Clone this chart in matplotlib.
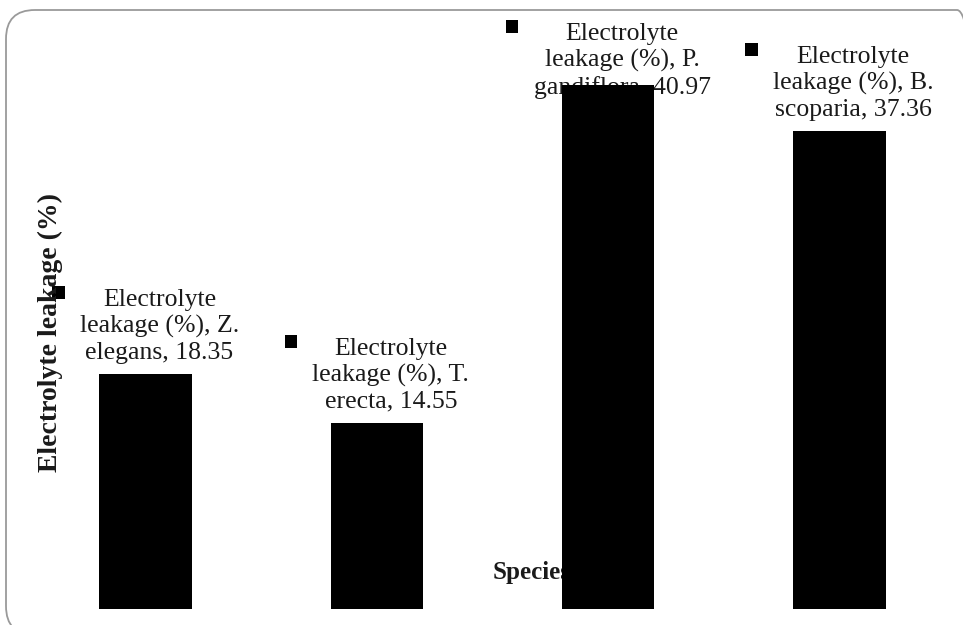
import matplotlib
matplotlib.use("Agg")
import matplotlib.pyplot as plt
from matplotlib.patches import FancyBboxPatch, Rectangle
from matplotlib.offsetbox import AnnotationBbox, HPacker, TextArea, DrawingArea

# data
species = ["Z.\nelegans", "T.\nerecta", "P.\ngandiflora", "B.\nscoparia"]
leakage = [18.35, 14.55, 40.97, 37.36]
series_name = "Electrolyte\nleakage (%),"

plt.rcParams["font.family"] = ["Liberation Serif", "DejaVu Serif"]

W, H = 963, 625
fig = plt.figure(figsize=(W / 100, H / 100), dpi=100)

# rounded chart-area border (Excel style)
border = FancyBboxPatch((6 / W, -10 / H), 980 / W, 625 / H,
                        boxstyle="round,pad=0,rounding_size=0.03",
                        transform=fig.transFigure, fc="none", ec="#9a9a9a",
                        lw=1.3, mutation_aspect=W / H, zorder=-1)
fig.patches.append(border)

ax = fig.add_axes([30 / W, 16 / H, 925 / W, 575.5 / H])
ax.set_axis_off()

x = range(len(species))
ax.bar(x, leakage, width=0.4, color="black", zorder=3)
ax.set_xlim(-0.5, len(species) - 0.5)
ax.set_ylim(0, 45)

# data labels with legend key, drawn beneath the bars
boxes = []
for i, (name, val) in enumerate(zip(species, leakage)):
    first, second = name.split("\n")
    txt = series_name.replace("(%),", "(%), " + first) + "\n" + second + ", " + f"{val:.2f}"
    ta = TextArea(txt, textprops=dict(fontsize=18.5, color="#1a1a1a",
                                      multialignment="center", linespacing=1.22))
    # legend key sits level with the cap height of the first line
    da = DrawingArea(9, 9, 0, 0)
    da.add_artist(Rectangle((0, 2), 9, 9, fc="black", ec="none"))
    pack = HPacker(children=[da, ta], align="top", pad=0, sep=11)
    ab = AnnotationBbox(pack, (i, val), xybox=(0, 7.5), xycoords="data",
                        boxcoords="offset points", box_alignment=(0.5, 0),
                        frameon=False, pad=0, zorder=2, annotation_clip=False)
    ax.add_artist(ab)
    boxes.append(ab)

# keep labels inside the chart area
fig.canvas.draw()
renderer = fig.canvas.get_renderer()
for ab in boxes:
    ext = ab.get_window_extent(renderer)
    limit = H - 23
    if ext.y1 > limit:
        ab.xybox = (0, 7.5 - (ext.y1 - limit) * 72 / 100)

ax.text(0.5, 0.052, "Species", transform=ax.transAxes, ha="left", va="baseline",
        fontsize=18, fontweight="bold", color="#1a1a1a", zorder=1, clip_on=False)
fig.text(50 / W, 1 - 332 / H, "Electrolyte leakage (%)", rotation=90,
         ha="center", va="center", fontsize=20, fontweight="bold", color="#1a1a1a")

fig.savefig("out.png", dpi=100)
